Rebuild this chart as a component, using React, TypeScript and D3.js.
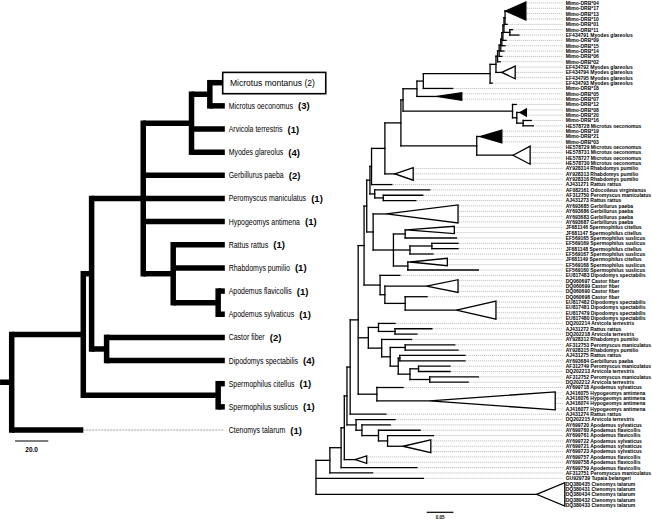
import React, { useMemo } from 'react';
import * as d3 from 'd3';

// ---------- Left panel: species tree ----------
const speciesNames = [
  'Microtus montanus', 'Microtus oeconomus', 'Arvicola terrestris', 'Myodes glareolus',
  'Gerbillurus paeba', 'Peromyscus maniculatus', 'Hypogeomys antimena', 'Rattus rattus',
  'Rhabdomys pumilio', 'Apodemus flavicollis', 'Apodemus sylvaticus', 'Castor fiber',
  'Dipodomys spectabilis', 'Spermophilus citellus', 'Spermophilus suslicus', 'Ctenomys talarum',
];
const speciesCounts = [2, 3, 1, 4, 2, 1, 1, 1, 1, 1, 1, 2, 4, 1, 1, 1];
const highlightedSpecies = 'Microtus montanus';
// [id, parent, depth from root]
const speciesNodes: [string, string, number][] = [
  ['root', '', 0], ['n83', 'root', 43], ['n92', 'n83', 48], ['muroid', 'n92', 79],
  ['arvic', 'muroid', 108], ['microtus', 'arvic', 119], ['rattusGrp', 'muroid', 97],
  ['apodemus', 'rattusGrp', 124], ['castorDipo', 'n92', 57], ['sperm', 'n83', 124],
];
// [leaf number, parent, depth]
const speciesTips: [number, string, number][] = [
  [1, 'microtus', 128], [2, 'microtus', 128], [3, 'arvic', 128], [4, 'arvic', 128],
  [5, 'muroid', 128], [6, 'muroid', 128], [7, 'muroid', 128], [8, 'rattusGrp', 128],
  [9, 'rattusGrp', 128], [10, 'apodemus', 128], [11, 'apodemus', 128], [12, 'castorDipo', 128],
  [13, 'castorDipo', 128], [14, 'sperm', 128], [15, 'sperm', 128], [16, 'root', 43],
];
const speciesDottedTips = [16];
const speciesRootStub = 7;
const speciesScaleBar = 20;
const speciesScaleLabel = '20.0';

// ---------- Right panel: allele tree ----------
const alleleLabels = [
  'Mimo-DRB*04', 'Mimo-DRB*17', 'Mimo-DRB*13', 'Mimo-DRB*10', 'Mimo-DRB*01', 'Mimo-DRB*11',
  'EF434791 Myodes glareolus', 'Mimo-DRB*09', 'Mimo-DRB*15', 'Mimo-DRB*14', 'Mimo-DRB*06', 'Mimo-DRB*02',
  'EF434792 Myodes glareolus', 'EF434794 Myodes glareolus', 'EF434795 Myodes glareolus', 'EF434793 Myodes glareolus',
  'Mimo-DRB*18', 'Mimo-DRB*05', 'Mimo-DRB*07', 'Mimo-DRB*12', 'Mimo-DRB*08', 'Mimo-DRB*20', 'Mimo-DRB*16',
  'HE578728 Microtus oeconomus', 'Mimo-DRB*19', 'Mimo-DRB*21', 'Mimo-DRB*03',
  'HE578729 Microtus oeconomus', 'HE578731 Microtus oeconomus', 'HE578727 Microtus oeconomus', 'HE578730 Microtus oeconomus',
  'AY928314 Rhabdomys pumilio', 'AY928313 Rhabdomys pumilio', 'AY928316 Rhabdomys pumilio',
  'AJ431271 Rattus rattus', 'AF082161 Odocoileus virginianus', 'AF312750 Peromyscus maniculatus', 'AJ431273 Rattus rattus',
  'AY693685 Gerbillurus paeba', 'AY693686 Gerbillurus paeba', 'AY693683 Gerbillurus paeba', 'AY693687 Gerbillurus paeba',
  'JF681146 Spermophilus citellus', 'JF681147 Spermophilus citellus', 'EF569165 Spermophilus suslicus',
  'EF569169 Spermophilus suslicus', 'JF681148 Spermophilus citellus', 'EF569167 Spermophilus suslicus',
  'JF681149 Spermophilus citellus', 'EF569168 Spermophilus suslicus', 'EF569160 Spermophilus suslicus',
  'EU817483 Dipodomys spectabilis', 'DQ060697 Castor fiber', 'DQ060699 Castor fiber', 'DQ060690 Castor fiber',
  'DQ060698 Castor fiber', 'EU817482 Dipodomys spectabilis', 'EU817481 Dipodomys spectabilis',
  'EU817479 Dipodomys spectabilis', 'EU817480 Dipodomys spectabilis', 'DQ202214 Arvicola terrestris',
  'AJ431272 Rattus rattus', 'DQ202218 Arvicola terrestris', 'AY928312 Rhabdomys pumilio',
  'AF312753 Peromyscus maniculatus', 'AY928315 Rhabdomys pumilio', 'AJ431275 Rattus rattus',
  'AY693684 Gerbillurus paeba', 'AF312749 Peromyscus maniculatus', 'DQ202213 Arvicola terrestris',
  'AF312752 Peromyscus maniculatus', 'DQ202212 Arvicola terrestris', 'AY699718 Apodemus sylvaticus',
  'AJ416075 Hypogeomys antimena', 'AJ416076 Hypogeomys antimena', 'AJ416074 Hypogeomys antimena',
  'AJ416077 Hypogeomys antimena', 'AJ431274 Rattus rattus', 'DQ202215 Arvicola terrestris',
  'AY699720 Apodemus sylvaticus', 'AY699760 Apodemus flavicollis', 'AY699761 Apodemus flavicollis',
  'AY699722 Apodemus sylvaticus', 'AY699721 Apodemus sylvaticus', 'AY699723 Apodemus sylvaticus',
  'AY699757 Apodemus flavicollis', 'AY699758 Apodemus flavicollis', 'AY699759 Apodemus flavicollis',
  'AF312751 Peromyscus maniculatus', 'GU929739 Tupaia belangeri', 'DQ380435 Ctenomys talarum',
  'DQ380431 Ctenomys talarum', 'DQ380434 Ctenomys talarum', 'DQ380432 Ctenomys talarum', 'DQ380433 Ctenomys talarum',
];
// [id, parent, depth (substitutions/site from root)]
const alleleNodes: [string, string, number][] = [
  ['root', '', 0], ['Main', 'root', 0.026], ['W', 'Main', 0.047], ['Y', 'W', 0.053], ['Yp', 'Y', 0.058],
  ['P', 'Yp', 0.064], ['A1', 'Yp', 0.075], ['A2', 'A1', 0.086], ['A3', 'A2', 0.117], ['A4', 'A3', 0.134],
  ['N', 'P', 0.079], ['n376', 'N', 0.114], ['Q', 'N', 0.098], ['Qa', 'Q', 0.117], ['Qb', 'Qa', 0.148],
  ['Qc', 'Q', 0.123], ['Qd', 'Qc', 0.139], ['Qe', 'Qd', 0.167], ['Qf', 'Qd', 0.154], ['Qg', 'Qf', 0.157],
  ['Qh', 'Qf', 0.176], ['Qi', 'Qh', 0.192], ['Qj', 'Qh', 0.213], ['L', 'N', 0.09], ['Z', 'L', 0.12],
  ['Z1', 'Z', 0.129], ['Z2', 'Z1', 0.167], ['J', 'L', 0.095], ['K', 'J', 0.107], ['S', 'K', 0.145],
  ['Sa', 'S', 0.167], ['Sb', 'S', 0.176], ['Sb1', 'Sb', 0.217], ['Sc', 'S', 0.172], ['I', 'J', 0.101],
  ['n375', 'I', 0.11], ['n383', 'n375', 0.126], ['H', 'I', 0.104], ['F', 'H', 0.129], ['G', 'F', 0.159],
  ['D', 'G', 0.301], ['E', 'G', 0.163], ['O', 'E', 0.368], ['O2', 'O', 0.376], ['O3', 'O2', 0.388],
  ['C', 'E', 0.189], ['B', 'C', 0.201], ['M2', 'B', 0.326], ['M1', 'M2', 0.337], ['L7', 'M1', 0.34],
  ['L6', 'L7', 0.343], ['L5', 'L6', 0.346], ['L4', 'L5', 0.348], ['L3', 'L4', 0.35], ['L2', 'L3', 0.352],
  ['n510', 'L2', 0.363], ['L1', 'L2', 0.354],
];
// [leaf number, parent, depth]
const alleleTips: [number, string, number][] = [
  [5, 'L1', 0.358], [6, 'n510', 0.368], [7, 'n510', 0.38], [8, 'L3', 0.356], [9, 'L4', 0.354],
  [10, 'L5', 0.352], [11, 'L6', 0.348], [12, 'L7', 0.345], [16, 'M2', 0.33], [17, 'B', 0.256],
  [20, 'O', 0.375], [23, 'O3', 0.403], [24, 'O3', 0.407], [35, 'H', 0.142], [36, 'n375', 0.213],
  [37, 'n383', 0.2], [38, 'n383', 0.187], [45, 'Sa', 0.263], [46, 'Sb1', 0.266], [47, 'Sb1', 0.266],
  [48, 'Sb', 0.219], [51, 'Sc', 0.304], [52, 'Z', 0.157], [56, 'Z2', 0.208], [61, 'Qa', 0.148],
  [62, 'Qb', 0.217], [63, 'Qb', 0.189], [64, 'Qc', 0.179], [65, 'Qe', 0.26], [66, 'Qe', 0.266],
  [67, 'Qg', 0.279], [68, 'Qg', 0.279], [69, 'Qi', 0.251], [70, 'Qi', 0.251], [71, 'Qj', 0.304],
  [72, 'Qj', 0.285], [73, 'n376', 0.163], [78, 'P', 0.131], [79, 'A1', 0.148], [80, 'A2', 0.139],
  [81, 'A3', 0.195], [82, 'A4', 0.22], [88, 'W', 0.189], [89, 'Main', 0.106], [90, 'root', 0.201],
];
// collapsed clades: [first leaf, last leaf, parent, apex depth, edge depth, filled]
const alleleCollapsed: [number, number, string, number, number, number][] = [
  [1, 4, 'L1', 0.355, 0.393, 1], [13, 15, 'M1', 0.348, 0.373, 0], [18, 19, 'C', 0.226, 0.273, 1],
  [21, 22, 'O2', 0.382, 0.394, 1], [25, 27, 'D', 0.307, 0.348, 1], [28, 31, 'D', 0.369, 0.401, 0],
  [32, 34, 'F', 0.148, 0.182, 0], [39, 42, 'K', 0.132, 0.266, 0], [43, 44, 'Sa', 0.169, 0.259, 0],
  [49, 50, 'Sc', 0.176, 0.246, 0], [53, 55, 'Z1', 0.207, 0.266, 0], [57, 60, 'Z2', 0.263, 0.337, 0],
  [74, 77, 'n376', 0.213, 0.448, 0], [83, 85, 'A4', 0.163, 0.215, 0], [86, 87, 'Y', 0.073, 0.095, 0],
  [91, 95, 'root', 0.413, 0.466, 0],
];
const alleleScaleBar = 0.05;
const alleleScaleLabel = '0.05';

type Row = {
  id: string; parentId: string | null; depth: number; kind: 'node' | 'tip' | 'tri';
  leaf?: number; first?: number; last?: number; edge?: number; filled?: boolean;
};

function buildTree(
  nodes: [string, string, number][],
  tips: [number, string, number][],
  collapsed: [number, number, string, number, number, number][],
  yOf: (leaf: number) => number,
) {
  const rows: Row[] = [];
  nodes.forEach(([id, p, d]) => rows.push({ id, parentId: p || null, depth: d, kind: 'node' }));
  tips.forEach(([n, p, d]) => rows.push({ id: 't' + n, parentId: p, depth: d, kind: 'tip', leaf: n }));
  collapsed.forEach(([a, b, p, apex, edge, f]) =>
    rows.push({ id: 'c' + a, parentId: p, depth: apex, kind: 'tri', first: a, last: b, edge, filled: !!f }));
  const root = d3.stratify<Row>().id((r) => r.id).parentId((r) => r.parentId)(rows) as any;
  root.eachAfter((n: any) => {
    const r: Row = n.data;
    if (r.kind === 'tip') n.py = yOf(r.leaf!);
    else if (r.kind === 'tri') n.py = (yOf(r.first!) + yOf(r.last!)) / 2;
    else {
      const ys = n.children.map((c: any) => c.py);
      n.y0 = d3.min(ys); n.y1 = d3.max(ys);
      n.py = (n.y0 + n.y1) / 2;
    }
  });
  return root;
}

let measureCtx: CanvasRenderingContext2D | null = null;
function measure(text: string, font: string) {
  if (!measureCtx) measureCtx = document.createElement('canvas').getContext('2d');
  if (!measureCtx) return text.length * 4;
  measureCtx.font = font;
  return measureCtx.measureText(text).width;
}

const FONT = "'Liberation Sans', Arial, Helvetica, sans-serif";

export default function App() {
  const W = 652, H = 519;

  const left = useMemo(() => {
    const yS = d3.scaleLinear().domain([1, speciesNames.length]).range([82.7, 430]);
    const xS = d3.scaleLinear().domain([0, speciesScaleBar]).range([11.7, 45]);
    const root = buildTree(speciesNodes, speciesTips, [], yS);
    return { yS, xS, root };
  }, []);

  const right = useMemo(() => {
    const yS = d3.scaleLinear().domain([1, alleleLabels.length]).range([3, 505]);
    const xS = d3.scaleLinear().domain([0, alleleScaleBar]).range([316, 342.7]);
    const root = buildTree(alleleNodes, alleleTips, alleleCollapsed, yS);
    return { yS, xS, root };
  }, []);

  // ---- left tree elements
  const leftEls: React.ReactNode[] = [];
  const lx = left.xS;
  left.root.each((n: any) => {
    if (n.children) {
      leftEls.push(
        <line key={'v' + n.id} x1={lx(n.data.depth)} x2={lx(n.data.depth)} y1={n.y0} y2={n.y1}
          stroke="#000" strokeWidth={5.5} strokeLinecap="square" />,
      );
      n.children.forEach((c: any) => {
        const dotted = c.data.kind === 'tip' && speciesDottedTips.includes(c.data.leaf);
        leftEls.push(
          <line key={'h' + c.id} x1={lx(n.data.depth)} x2={lx(c.data.depth)} y1={c.py} y2={c.py}
            stroke="#000" strokeWidth={5.5} strokeLinecap="butt" />,
        );
        if (dotted) {
          leftEls.push(
            <line key={'d' + c.id} x1={lx(c.data.depth)} x2={lx(128) - 1} y1={c.py} y2={c.py}
              stroke="#888" strokeWidth={0.8} strokeDasharray="2 1" />,
          );
        }
      });
    }
  });
  leftEls.push(
    <line key="stub" x1={lx(-speciesRootStub)} x2={lx(0)} y1={left.root.py} y2={left.root.py}
      stroke="#000" strokeWidth={5.5} />,
  );

  const nameFont = `8.5px ${FONT}`;
  const leftLabels = speciesNames.map((name, i) => {
    const y = left.yS(i + 1);
    const labelX = 228.7;
    if (name === highlightedSpecies) {
      const t = `${name} (${speciesCounts[i]})`;
      const w = measure(t, `9px ${FONT}`) * 0.95;
      return (
        <g key={name}>
          <rect x={labelX - 6} y={y - 10.3} width={w + 18} height={21.3} fill="#fff" stroke="#000" strokeWidth={1.6} />
          <text transform={`translate(${labelX + 1.3},${y + 3.2}) scale(0.95,1)`} fontSize={9} fill="#000">{t}</text>
        </g>
      );
    }
    const w = measure(name, nameFont) * 0.82;
    return (
      <g key={name}>
        <text transform={`translate(${labelX},${y + 3}) scale(0.82,1)`} fontSize={8.5} fill="#000">{name}</text>
        <text x={labelX + w + 5} y={y + 3.5} fontSize={9.5} fontWeight="bold" fill="#000">({speciesCounts[i]})</text>
      </g>
    );
  });

  // ---- right tree elements
  const rx = right.xS;
  const ry = right.yS;
  const labelStartX = 565.7;
  const dotEndX = 563;
  const rightEls: React.ReactNode[] = [];
  const dotEls: React.ReactNode[] = [];
  right.root.each((n: any) => {
    const r: Row = n.data;
    if (n.children) {
      rightEls.push(
        <line key={'v' + n.id} x1={rx(r.depth)} x2={rx(r.depth)} y1={n.y0} y2={n.y1}
          stroke="#000" strokeWidth={1.3} strokeLinecap="square" />,
      );
      n.children.forEach((c: any) => {
        rightEls.push(
          <line key={'h' + c.id} x1={rx(r.depth)} x2={rx(c.data.depth)} y1={c.py} y2={c.py}
            stroke="#000" strokeWidth={1.3} strokeLinecap="square" />,
        );
      });
    } else if (r.kind === 'tip') {
      const x0 = rx(r.depth) + 1;
      if (x0 < dotEndX) dotEls.push(
        <line key={'dt' + n.id} x1={x0} x2={dotEndX} y1={n.py} y2={n.py}
          stroke="#9a9a9a" strokeWidth={0.6} strokeDasharray="1.2 0.8" />,
      );
    } else if (r.kind === 'tri') {
      const ax = rx(r.depth), ex = rx(r.edge!);
      const yt = ry(r.first!) - 1, yb = ry(r.last!) + 1;
      rightEls.push(
        <polygon key={'p' + n.id} points={`${ax},${n.py} ${ex},${yt} ${ex},${yb}`}
          fill={r.filled ? '#000' : '#fff'} stroke="#000" strokeWidth={1.3} strokeLinejoin="miter" />,
      );
      for (let k = r.first!; k <= r.last!; k++) {
        if (ex + 1 < dotEndX) dotEls.push(
          <line key={'dc' + k} x1={ex + 1} x2={dotEndX} y1={ry(k)} y2={ry(k)}
            stroke="#9a9a9a" strokeWidth={0.6} strokeDasharray="1.2 0.8" />,
        );
      }
    }
  });

  const rightLabels = alleleLabels.map((lab, i) => (
    <text key={'rl' + i} transform={`translate(${labelStartX},${ry(i + 1) + 1.9}) scale(0.95,1)`}
      fontSize={5.3} fontWeight="bold" fill="#000">{lab}</text>
  ));

  const lsbX0 = 15;
  const lsbW = lx(speciesScaleBar) - lx(0);
  const rsbX0 = 426.7;
  const rsbW = rx(alleleScaleBar) - rx(0);

  return (
    <svg width={W} height={H} viewBox={`0 0 ${W} ${H}`}
      style={{ position: 'absolute', left: 0, top: 0, background: '#fff', display: 'block' }}
      fontFamily={FONT}>
      <rect x={0} y={0} width={W} height={H} fill="#fff" />
      <g>{leftEls}</g>
      <g>{leftLabels}</g>
      <line x1={lsbX0} x2={lsbX0 + lsbW} y1={441} y2={441} stroke="#000" strokeWidth={1.2} />
      <text x={lsbX0 + lsbW / 2} y={451.5} fontSize={6.5} fontWeight="bold" textAnchor="middle">{speciesScaleLabel}</text>
      <g>{dotEls}</g>
      <g>{rightEls}</g>
      <g>{rightLabels}</g>
      <line x1={rsbX0} x2={rsbX0 + rsbW} y1={512.3} y2={512.3} stroke="#000" strokeWidth={1.2} />
      <text x={rsbX0 + rsbW / 2} y={518.5} fontSize={4.5} fontWeight="bold" textAnchor="middle">{alleleScaleLabel}</text>
    </svg>
  );
}
